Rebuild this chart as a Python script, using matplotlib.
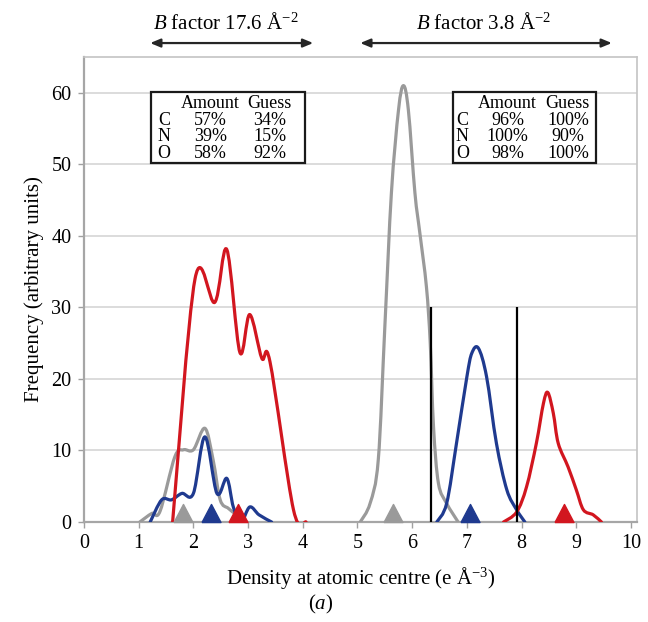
import numpy as np
import matplotlib
matplotlib.use("Agg")
import matplotlib.pyplot as plt
from matplotlib.path import Path
from matplotlib.patches import PathPatch, Rectangle
from matplotlib.markers import MarkerStyle
import matplotlib.transforms as mtransforms

plt.rcParams["font.family"] = ["Liberation Serif", "DejaVu Serif"]
plt.rcParams["mathtext.fontset"] = "custom"
plt.rcParams["mathtext.rm"] = "Liberation Serif"
plt.rcParams["mathtext.it"] = "Liberation Serif:italic"

# ---- density distributions (x: density, y: frequency) ----
# B factor 17.6 A^-2
c_low_x = [1.02, 1.24, 1.39, 1.66, 1.82, 2.00, 2.21, 2.36, 2.49, 2.64, 2.79, 2.97]
c_low_y = [0.0, 1.2, 1.5, 9.1, 10.1, 10.1, 13.1, 8.7, 3.1, 1.9, 1.0, 0.0]
n_low_x = [1.21, 1.42, 1.60, 1.79, 2.00, 2.21, 2.43, 2.61, 2.73, 2.87, 3.03, 3.20, 3.43]
n_low_y = [0.0, 3.1, 3.1, 4.0, 4.0, 11.9, 4.0, 6.1, 2.1, 0.0, 2.1, 1.0, 0.0]
o_low_x = [1.62, 2.03, 2.39, 2.61, 2.85, 3.03, 3.25, 3.40, 3.83, 4.06]
o_low_y = [0.0, 34.0, 30.7, 38.1, 23.7, 29.0, 22.9, 22.4, 1.7, 0.0]
# B factor 3.8 A^-2
c_high_x = [5.05, 5.23, 5.38, 5.50, 5.62, 5.75, 5.84, 5.93, 6.05, 6.14, 6.26, 6.33, 6.39, 6.48, 6.63, 6.84]
c_high_y = [0.0, 2.6, 8.7, 27.3, 46.0, 57.6, 61.0, 57.6, 46.0, 40.4, 32.9, 25.0, 13.3, 5.4, 2.6, 0.0]
n_high_x = [6.45, 6.63, 6.81, 7.00, 7.09, 7.21, 7.36, 7.54, 7.73, 7.91, 8.06]
n_high_y = [0.0, 2.6, 11.0, 20.3, 23.6, 24.3, 20.3, 11.0, 4.5, 1.7, 0.0]
o_high_x = [7.67, 7.91, 8.09, 8.27, 8.40, 8.48, 8.58, 8.67, 8.85, 9.00, 9.13, 9.31, 9.46]
o_high_y = [0.0, 1.4, 4.9, 11.0, 16.6, 18.1, 15.2, 11.0, 7.7, 4.5, 1.7, 1.0, 0.0]

# mean densities (triangles)
mean_low = [1.81, 2.32, 2.81]
mean_high = [5.65, 7.06, 8.78]

# classification thresholds
thresholds = [6.35, 7.92]
threshold_height = 30

# table contents
elements = ["C", "N", "O"]
amount_low = ["57%", "39%", "58%"]
guess_low = ["34%", "15%", "92%"]
amount_high = ["96%", "100%", "98%"]
guess_high = ["100%", "90%", "100%"]

x_ticks = list(range(0, 11))
y_ticks = list(range(0, 61, 10))

GRAY = "#9a9a9a"
BLUE = "#1f3a8f"
RED = "#d2161f"


def smooth_path(xs, ys):
    """Catmull-Rom style Bezier path through the given points."""
    p = np.column_stack([xs, ys]).astype(float)
    n = len(p)
    verts = [p[0]]
    codes = [Path.MOVETO]
    for i in range(n - 1):
        p0 = p[i - 1] if i > 0 else p[i]
        p1 = p[i]
        p2 = p[i + 1]
        p3 = p[i + 2] if i + 2 < n else p[i + 1]
        c1 = p1 + (p2 - p0) / 6.0
        c2 = p2 - (p3 - p1) / 6.0
        verts += [c1, c2, p2]
        codes += [Path.CURVE4] * 3
    return Path(verts, codes)


fig = plt.figure(figsize=(6.48, 6.22), dpi=100)
ax = fig.add_axes([84 / 648, 100 / 622, 553 / 648, 465 / 622])
ax.set_xlim(0, 10.11)
ax.set_ylim(0, 65)

for xs, ys, col in [
    (c_low_x, c_low_y, GRAY), (n_low_x, n_low_y, BLUE), (o_low_x, o_low_y, RED),
    (c_high_x, c_high_y, GRAY), (n_high_x, n_high_y, BLUE), (o_high_x, o_high_y, RED),
]:
    ax.add_patch(PathPatch(smooth_path(xs, ys), fill=False, edgecolor=col,
                           lw=2.3, zorder=3, capstyle="round", joinstyle="round"))

ax.vlines(thresholds, 0, threshold_height, color="black", lw=1.6, zorder=4)

tri = MarkerStyle(Path([(-1, -0.95), (1, -0.95), (0, 0.95), (-1, -0.95)]))
lift = mtransforms.offset_copy(ax.transData, fig=fig, x=0, y=9, units="dots")
for means in (mean_low, mean_high):
    for xm, col in zip(means, [GRAY, BLUE, RED]):
        ax.plot([xm], [0], marker=tri, ms=13.7, color=col, mec=col,
                transform=lift, zorder=5, clip_on=False)

# axes styling
ax.set_xticks(x_ticks)
ax.set_yticks(y_ticks)
ax.tick_params(axis="both", direction="out", length=4, width=1, color="#a0a0a0",
               labelsize=14.5, pad=5)
ax.yaxis.grid(True, color="#d9d9d9", lw=1.3, zorder=0)
ax.set_axisbelow(True)
for side in ["left", "bottom"]:
    ax.spines[side].set_color("#a6a6a6")
    ax.spines[side].set_linewidth(1.6)
for side in ["top", "right"]:
    ax.spines[side].set_color("#c4c4c4")
    ax.spines[side].set_linewidth(1.2)

ax.set_xlabel(r"Density at atomic centre (e Å$^{-3}$)", fontsize=15, labelpad=8)
ax.set_ylabel("Frequency (arbitrary units)", fontsize=15, labelpad=5)
fig.text(0.5 - 0.005, (622 - 604) / 622, r"($\it{a}$)", ha="center", va="center", fontsize=15)

# B-factor arrows and labels
arrow_kw = dict(arrowstyle="<|-|>,head_length=0.6,head_width=0.25", color="#262626", lw=1.6,
                shrinkA=0, shrinkB=0)
ax.annotate("", xy=(1.21, 1.03), xytext=(4.19, 1.03), xycoords=("data", "axes fraction"),
            textcoords=("data", "axes fraction"), arrowprops=arrow_kw, annotation_clip=False)
ax.annotate("", xy=(5.05, 1.03), xytext=(9.65, 1.03), xycoords=("data", "axes fraction"),
            textcoords=("data", "axes fraction"), arrowprops=arrow_kw, annotation_clip=False)
ax.text(2.6, 1.072, r"$\it{B}$ factor 17.6 Å$^{-2}$", transform=ax.get_xaxis_transform(),
        ha="center", va="center", fontsize=15)
ax.text(7.3, 1.072, r"$\it{B}$ factor 3.8 Å$^{-2}$", transform=ax.get_xaxis_transform(),
        ha="center", va="center", fontsize=15)


def draw_table(box, col_x, amounts, guesses):
    x0, x1, y0, y1 = box
    ax.add_patch(Rectangle((x0, y0), x1 - x0, y1 - y0, transform=ax.transAxes,
                           facecolor="white", edgecolor="#1a1a1a", lw=1.6, zorder=6))
    lx, amount_x, guess_x = col_x
    yc = 0.846
    kw = dict(transform=ax.transAxes, ha="center", va="center", multialignment="center",
              fontsize=13, linespacing=0.97, zorder=7)
    ax.text(lx, yc, "\n" + "\n".join(elements), **kw)
    ax.text(amount_x, yc, "\n".join(["Amount"] + amounts), **kw)
    ax.text(guess_x, yc, "\n".join(["Guess"] + guesses), **kw)


draw_table((0.122, 0.400, 0.773, 0.924), (0.145, 0.229, 0.336), amount_low, guess_low)
draw_table((0.668, 0.926, 0.773, 0.924), (0.684, 0.766, 0.875), amount_high, guess_high)

fig.savefig("out.png", dpi=100)
